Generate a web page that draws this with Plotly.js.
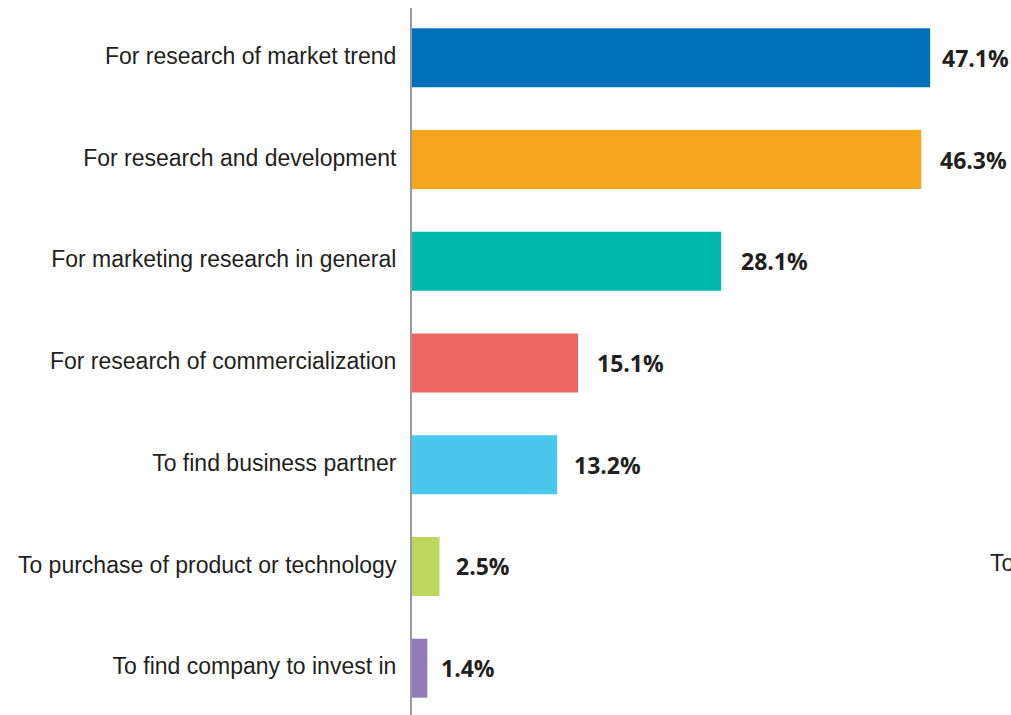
<!DOCTYPE html>
<html>
<head>
<meta charset="utf-8">
<script src="https://cdn.plot.ly/plotly-3.0.1.min.js"></script>
<style>html,body{margin:0;padding:0;background:#fff;}#chart{width:1011px;height:715px;}</style>
</head>
<body>
<div id="chart"></div>
<script>
var categories = [
  "For research of market trend",
  "For research and development",
  "For marketing research in general",
  "For research of commercialization",
  "To find business partner",
  "To purchase of product or technology",
  "To find company to invest in"
];
var values = [47.1, 46.3, 28.1, 15.1, 13.2, 2.5, 1.4];
var valueLabels = ["47.1%", "46.3%", "28.1%", "15.1%", "13.2%", "2.5%", "1.4%"];
var barColors = ["#0072BC", "#F6A51E", "#00B9AC", "#F06664", "#48C8EC", "#BDD75E", "#8E7BB8"];
var labelShift = [10, 17, 18, 17, 15, 14, 12];

var trace = {
  type: "bar",
  orientation: "h",
  y: categories,
  x: values,
  marker: {color: barColors},
  hoverinfo: "none"
};

var annotations = values.map(function(v, i) {
  return {
    x: v, y: categories[i], xref: "x", yref: "y",
    text: valueLabels[i], showarrow: false,
    xanchor: "left", yanchor: "middle", xshift: labelShift[i], yshift: 0,
    font: {family: "Open Sans, sans-serif", size: 23, color: "#231F20", weight: 700}
  };
});
annotations.push({
  xref: "paper", yref: "paper", x: (988 - 412) / 599, y: (715 - 563) / 707,
  text: "To", showarrow: false, xanchor: "left", yanchor: "middle",
  font: {family: "Liberation Sans, Arial, sans-serif", size: 23, color: "#231F20"}
});

var layout = {
  width: 1011, height: 715,
  margin: {l: 412, r: 0, t: 8, b: 0, pad: 0},
  paper_bgcolor: "#fff", plot_bgcolor: "#fff",
  showlegend: false,
  bargap: 0.42,
  xaxis: {range: [0, 54.45], visible: false, fixedrange: true},
  yaxis: {
    type: "category",
    range: [6.46, -0.49],
    showline: true, linecolor: "#999999", linewidth: 2,
    showgrid: false, zeroline: false, ticks: "",
    ticklabelstandoff: 9,
    ticklabelshift: 2,
    tickfont: {family: "Liberation Sans, Arial, sans-serif", size: 23, color: "#231F20"}
  },
  annotations: annotations
};

Plotly.newPlot("chart", [trace], layout, {displayModeBar: false, staticPlot: true});
</script>
</body>
</html>
